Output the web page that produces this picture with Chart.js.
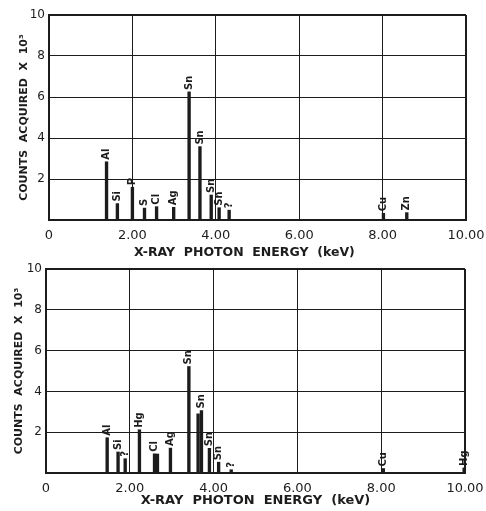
<!DOCTYPE html>
<html>
<head>
<meta charset="utf-8">
<script src="https://cdn.jsdelivr.net/npm/chart.js@4.4.1/dist/chart.umd.min.js"></script>
<style>
  body { margin: 0; background: #fff; }
  canvas { position: absolute; left: 0; }
  #spectreHaut { top: 0; }
  #spectreBas { top: 255px; }
</style>
</head>
<body>
<canvas id="spectreHaut" width="486" height="262"></canvas>
<canvas id="spectreBas" width="486" height="256"></canvas>
<script>
// Spectre du haut
const energiesHaut = [1.38, 1.64, 2.00, 2.29, 2.58, 2.99, 3.36, 3.62, 3.89, 4.08, 4.32, 8.02, 8.58];
const comptesHaut = [2.84, 0.80, 1.60, 0.58, 0.65, 0.62, 6.25, 3.58, 1.22, 0.60, 0.48, 0.33, 0.36];
const elementsHaut = ['Al', 'Si', 'P', 'S', 'Cl', 'Ag', 'Sn', 'Sn', 'Sn', 'Sn', '?', 'Cu', 'Zn'];

// Spectre du bas
const energiesBas = [1.46, 1.72, 1.89, 2.23, 2.59, 2.66, 2.97, 3.41, 3.63, 3.71, 3.90, 4.12, 4.42, 8.05, 9.98];
const comptesBas = [1.73, 1.03, 0.70, 2.12, 0.94, 0.93, 1.22, 5.22, 2.90, 3.06, 1.21, 0.53, 0.16, 0.22, 0.25];
const elementsBas = ['Al', 'Si', '?', 'Hg', 'Cl', '', 'Ag', 'Sn', '', 'Sn', 'Sn', 'Sn', '?', 'Cu', 'Hg'];

// Graduations
const ticksX = [0, 2, 4, 6, 8, 10];
const ticksY = [0, 2, 4, 6, 8, 10];

const encre = '#1c1c1c';

// Noms des raies, écrits à la verticale au-dessus des barres
const peakLabels = {
    id: 'peakLabels',
    afterDatasetsDraw(chart, args, opts) {
        const ctx = chart.ctx;
        const meta = chart.getDatasetMeta(0);
        ctx.save();
        ctx.font = 'bold 10px "DejaVu Sans"';
        ctx.fillStyle = encre;
        ctx.textAlign = 'left';
        ctx.textBaseline = 'middle';
        meta.data.forEach((bar, i) => {
            const txt = opts.names[i];
            if (!txt) return;
            ctx.save();
            ctx.translate(bar.x, bar.y - 2);
            ctx.rotate(-Math.PI / 2);
            ctx.fillText(txt, 0, 0);
            ctx.restore();
        });
        ctx.restore();
    }
};

function makeSpectrum(id, energies, counts, names, cfg) {
    const points = energies.map((e, i) => ({ x: e, y: counts[i] }));
    return new Chart(document.getElementById(id), {
        type: 'bar',
        data: {
            datasets: [{
                data: points,
                backgroundColor: encre,
                barThickness: 2.7
            }]
        },
        plugins: [peakLabels],
        options: {
            responsive: false,
            animation: false,
            layout: { padding: { left: 0, right: cfg.right, top: cfg.top, bottom: 0 } },
            plugins: {
                legend: { display: false },
                tooltip: { enabled: false },
                peakLabels: { names: names }
            },
            scales: {
                x: {
                    type: 'linear',
                    min: 0,
                    max: 10,
                    offset: false,
                    afterBuildTicks: (scale) => { scale.ticks = ticksX.map(v => ({ value: v })); },
                    afterFit: (scale) => {
                        scale.height = cfg.xHeight;
                        scale.paddingLeft = 0;
                        scale.paddingRight = 0;
                    },
                    grid: {
                        offset: false,
                        drawTicks: false,
                        color: encre,
                        lineWidth: (c) => (c.tick && c.tick.value === 10 ? 2 : 1)
                    },
                    border: { display: true, color: encre, width: 2 },
                    ticks: {
                        padding: 8,
                        color: encre,
                        font: { family: 'DejaVu Sans', size: 13 },
                        callback: (v) => (v === 0 ? '0' : v.toFixed(2))
                    },
                    title: {
                        display: true,
                        text: cfg.xTitle,
                        color: encre,
                        font: { family: 'DejaVu Sans', size: cfg.xTitleSize, weight: 'bold' },
                        padding: { top: 0, bottom: cfg.xTitlePad }
                    }
                },
                y: {
                    min: 0,
                    max: 10,
                    afterBuildTicks: (scale) => { scale.ticks = ticksY.map(v => ({ value: v })); },
                    afterFit: (scale) => { scale.width = cfg.yWidth; },
                    grid: {
                        drawTicks: false,
                        color: encre,
                        lineWidth: (c) => (c.tick && c.tick.value === 10 ? 2 : 1)
                    },
                    border: { display: true, color: encre, width: 2 },
                    ticks: {
                        padding: 4,
                        color: encre,
                        font: { family: 'DejaVu Sans', size: 12 },
                        callback: (v) => (v === 0 ? '' : String(v))
                    },
                    title: {
                        display: true,
                        text: 'COUNTS  ACQUIRED  X  10³',
                        color: encre,
                        font: { family: 'DejaVu Sans', size: 11, weight: 'bold' },
                        padding: { top: cfg.yTitlePad, bottom: 0 }
                    }
                }
            }
        }
    });
}

makeSpectrum('spectreHaut', energiesHaut, comptesHaut, elementsHaut, {
    right: 20, top: 15, xHeight: 42, yWidth: 49,
    xTitle: 'X-RAY  PHOTON  ENERGY  (keV)      ', xTitleSize: 12.5, xTitlePad: 2, yTitlePad: 18
});

makeSpectrum('spectreBas', energiesBas, comptesBas, elementsBas, {
    right: 21, top: 14, xHeight: 38, yWidth: 46,
    xTitle: 'X-RAY  PHOTON  ENERGY  (keV)', xTitleSize: 13, xTitlePad: 3, yTitlePad: 13
});
</script>
</body>
</html>
